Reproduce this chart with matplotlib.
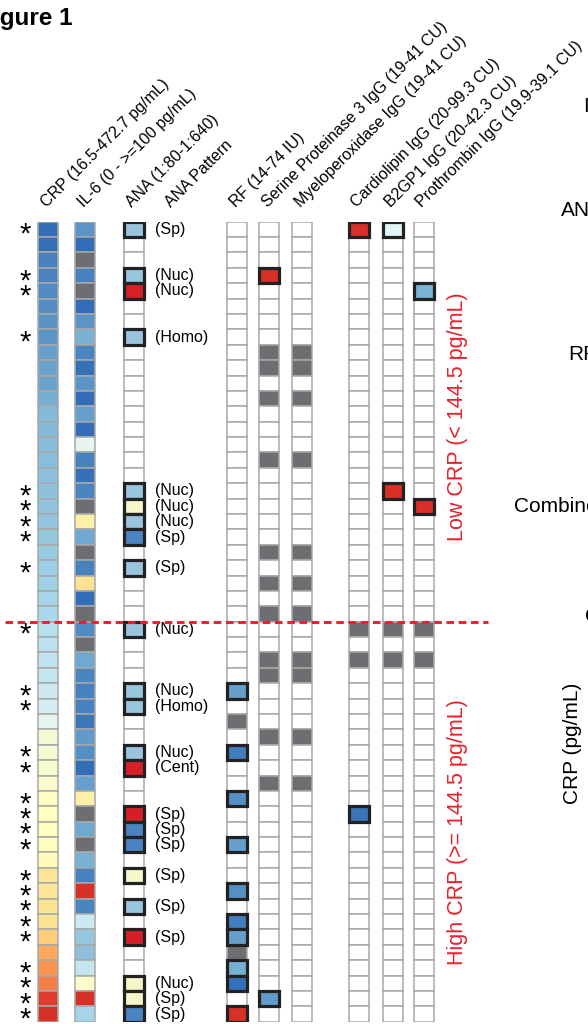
import numpy as np
import matplotlib
matplotlib.use('Agg')
import matplotlib.pyplot as plt
from matplotlib.colors import LinearSegmentedColormap, Normalize, ListedColormap, BoundaryNorm
from matplotlib.patches import Rectangle

plt.rcParams['font.family'] = ['Liberation Sans', 'DejaVu Sans']

N = np.nan

# ---------------- data (rows ordered by CRP) ----------------
crp = [16.5, 20, 35, 37, 44, 46, 51, 53, 62, 64, 66, 76, 90, 92, 94, 96, 99, 101, 103, 105,
       108, 112, 117, 121, 126, 131,
       145, 149, 153, 158, 167, 176, 199, 222, 226, 231, 235, 240, 245, 246, 247, 250, 290, 292,
       295, 297, 322, 363, 381, 400, 459, 472.7]
crp_cut = 144.5

il6 = [8, 0, N, 4, N, 0, 8, 14, 5, 1, 8, 0, 10, 0, 40, 4, 1, 5, N, 56, 12, N, 4, 62, 0, N,
       6, N, 12, 5, 4, 4, 2, 9, 7, 0, 10, 56, N, 12, N, 14, 4, 100, 5, 33, 20, 18, 31, 48, 100, 24]

ana = [160, 0, 0, 160, 640, 0, 0, 160, 0, 0, 0, 0, 0, 0, 0, 0, 0, 160, 320, 160,
       80, 0, 160, 0, 0, 0,
       160, 0, 0, 0, 160, 160, 0, 0, 160, 640, 0, 0, 640, 80, 80, 0, 320, 0, 160, 0,
       640, 0, 0, 320, 320, 80]

ana_pattern = ['Sp', '', '', 'Nuc', 'Nuc', '', '', 'Homo', '', '', '', '', '', '', '', '', '',
               'Nuc', 'Nuc', 'Nuc', 'Sp', '', 'Sp', '', '', '',
               'Nuc', '', '', '', 'Nuc', 'Homo', '', '', 'Nuc', 'Cent', '', '', 'Sp', 'Sp', 'Sp',
               '', 'Sp', '', 'Sp', '', 'Sp', '', '', 'Nuc', 'Sp', 'Sp']

rf = [0, 0, 0, 0, 0, 0, 0, 0, 0, 0, 0, 0, 0, 0, 0, 0, 0, 0, 0, 0, 0, 0, 0, 0, 0, 0,
      0, 0, 0, 0, 20, 0, N, 0, 16, 0, 0, 18, 0, 0, 20, 0, 0, 18, 0, 16, 20, N, 22, 14.5, 0, 74]

pr3 = [0, 0, 0, 41, 0, 0, 0, 0, N, N, 0, N, 0, 0, 0, N, 0, 0, 0, 0, 0, N, 0, N, 0, N,
       0, 0, N, N, 0, 0, 0, N, 0, 0, N, 0, 0, 0, 0, 0, 0, 0, 0, 0, 0, 0, 0, 0, 21, 0]

mpo = [0, 0, 0, 0, 0, 0, 0, 0, N, N, 0, N, 0, 0, 0, N, 0, 0, 0, 0, 0, N, 0, N, 0, N,
       0, 0, N, N, 0, 0, 0, N, 0, 0, N, 0, 0, 0, 0, 0, 0, 0, 0, 0, 0, 0, 0, 0, 0, 0]

cardiolipin = [99.3, 0, 0, 0, 0, 0, 0, 0, 0, 0, 0, 0, 0, 0, 0, 0, 0, 0, 0, 0, 0, 0, 0, 0, 0, 0,
               N, 0, N, 0, 0, 0, 0, 0, 0, 0, 0, 0, 21.5, 0, 0, 0, 0, 0, 0, 0, 0, 0, 0, 0, 0, 0]

b2gp1 = [28.5, 0, 0, 0, 0, 0, 0, 0, 0, 0, 0, 0, 0, 0, 0, 0, 0, 42.3, 0, 0, 0, 0, 0, 0, 0, 0,
         N, 0, N, 0, 0, 0, 0, 0, 0, 0, 0, 0, 0, 0, 0, 0, 0, 0, 0, 0, 0, 0, 0, 0, 0, 0]

prothrombin = [0, 0, 0, 0, 22.6, 0, 0, 0, 0, 0, 0, 0, 0, 0, 0, 0, 0, 0, 39.1, 0, 0, 0, 0, 0, 0, 0,
               N, 0, N, 0, 0, 0, 0, 0, 0, 0, 0, 0, 0, 0, 0, 0, 0, 0, 0, 0, 0, 0, 0, 0, 0, 0]

headers = ['CRP (16.5-472.7 pg/mL)', 'IL-6 (0 - >=100 pg/mL)', 'ANA (1:80-1:640)', 'ANA Pattern',
           'RF (14-74 IU)', 'Serine Proteinase 3 IgG (19-41 CU)', 'Myeloperoxidase IgG (19-41 CU)',
           'Cardiolipin IgG (20-99.3 CU)', 'B2GP1 IgG (20-42.3 CU)', 'Prothrombin IgG (19.9-39.1 CU)']

ranges = {'rf': (14, 74), 'pr3': (19, 41), 'mpo': (19, 41), 'cl': (20, 99.3),
          'b2': (20, 42.3), 'pt': (19.9, 39.1)}

# ---------------- styles ----------------
cmap = LinearSegmentedColormap.from_list(
    'rdylbu9', ['#326db6', '#74add1', '#abd9e9', '#e0f3f8', '#ffffbf',
                '#fee090', '#fdae61', '#f46d43', '#d73027'])
ana_cmap = ListedColormap(['#4b82c1', '#9ac5e1', '#f6f7c9', '#d71f28'])
ana_norm = BoundaryNorm([0, 120, 240, 480, 1000], 4)
GREY = '#6d6e71'
EDGE = '#a8a8a8'
RED = '#e8202a'

W, H = 588, 1024
fig = plt.figure(figsize=(W / 100, H / 100), dpi=100)
top_px, bot_px = 221.7, 1021.7
nrows = len(crp)
ax = fig.add_axes([0, (H - bot_px) / H, 1, (bot_px - top_px) / H])
ax.set_xlim(0, W)
ax.set_ylim(nrows, 0)
ax.axis('off')

cw = 20  # cell width (px units on x)
col_left = {'crp': 38, 'il6': 75, 'ana': 124, 'rf': 227, 'pr3': 259, 'mpo': 292,
            'cl': 349, 'b2': 383, 'pt': 414}


def cont_column(vals, left, vmin, vmax):
    norm = Normalize(vmin, vmax)
    for i, v in enumerate(vals):
        fc = GREY if np.isnan(v) else cmap(norm(v))
        ax.add_patch(Rectangle((left, i), cw, 1, facecolor=fc, edgecolor=EDGE, lw=1.1, zorder=2))


def ab_column(vals, left, vmin, vmax, norm=None, cm=None):
    if norm is None:
        norm = Normalize(vmin, vmax)
        cm = cmap
    for i, v in enumerate(vals):
        if np.isnan(v):
            ax.add_patch(Rectangle((left, i), cw, 1, facecolor=GREY, edgecolor=EDGE, lw=1.1, zorder=2))
        elif v == 0:
            ax.add_patch(Rectangle((left, i), cw, 1, facecolor='white', edgecolor=EDGE, lw=1.1, zorder=2))
        else:
            ax.add_patch(Rectangle((left, i), cw, 1, facecolor=cm(norm(v)), edgecolor='#222222',
                                   lw=2.3, zorder=4))


cont_column(crp, col_left['crp'], 16.5, 472.7)
cont_column(il6, col_left['il6'], 0, 100)
ab_column(ana, col_left['ana'], None, None, norm=ana_norm, cm=ana_cmap)
ab_column(rf, col_left['rf'], *ranges['rf'])
ab_column(pr3, col_left['pr3'], *ranges['pr3'])
ab_column(mpo, col_left['mpo'], *ranges['mpo'])
ab_column(cardiolipin, col_left['cl'], *ranges['cl'])
ab_column(b2gp1, col_left['b2'], *ranges['b2'])
ab_column(prothrombin, col_left['pt'], *ranges['pt'])

# ANA pattern labels
for i, p in enumerate(ana_pattern):
    if p:
        ax.text(155, i + 0.5, '(%s)' % p, fontsize=11.5, ha='left', va='center', zorder=5)

# stars: any positive autoantibody
ab_all = np.array([ana, rf, pr3, mpo, cardiolipin, b2gp1, prothrombin], dtype=float)
pos = np.nansum(ab_all > 0, axis=0) > 0
for i, s in enumerate(pos):
    if s:
        ax.text(25, i + 0.5 + 0.36, '*', fontsize=21, ha='center', va='center', zorder=5)

# headers
hx = [col_left['crp'] + 9, col_left['il6'] + 9, col_left['ana'] + 8, 171,
      col_left['rf'] + 9, col_left['pr3'] + 9, col_left['mpo'] + 9,
      col_left['cl'] + 8, col_left['b2'] + 8, col_left['pt'] + 8]
for x, h in zip(hx, headers):
    ax.text(x, -0.9, h, rotation=45, rotation_mode='anchor', ha='left', va='baseline',
            fontsize=11.5, clip_on=False)

# group divider
n_low = int(np.sum(np.array(crp) < crp_cut))
ax.hlines(n_low, 5, 488, colors=RED, linestyles=(0, (2.6, 1.6)), lw=2.1, zorder=6, clip_on=False)

fig.text(457 / W, 1 - 417 / H, 'Low CRP (< 144.5 pg/mL)', rotation=90, color=RED,
         fontsize=15.5, ha='center', va='center')
fig.text(458 / W, 1 - 832 / H, 'High CRP (>= 144.5 pg/mL)', rotation=90, color=RED,
         fontsize=15.5, ha='center', va='center')

# title (partially cut off at left edge)
fig.text(72 / W, 1 - 25 / H, 'Figure 1', ha='right', va='baseline', fontsize=17.5, fontweight='bold')

# fragments of the adjacent panel, cut off at the right edge
for x, y, t in [(583, 107, 'IL-6'), (561, 210, 'ANA'), (568, 354, 'RF'),
                (514, 507, 'Combined'), (585, 617, 'CRP')]:
    fig.text(x / W, 1 - y / H, t, ha='left', va='center', fontsize=15)
fig.text(573 / W, 1 - 743 / H, 'CRP (pg/mL)', rotation=90, ha='center', va='center', fontsize=15)

fig.savefig('out.png', dpi=100)
